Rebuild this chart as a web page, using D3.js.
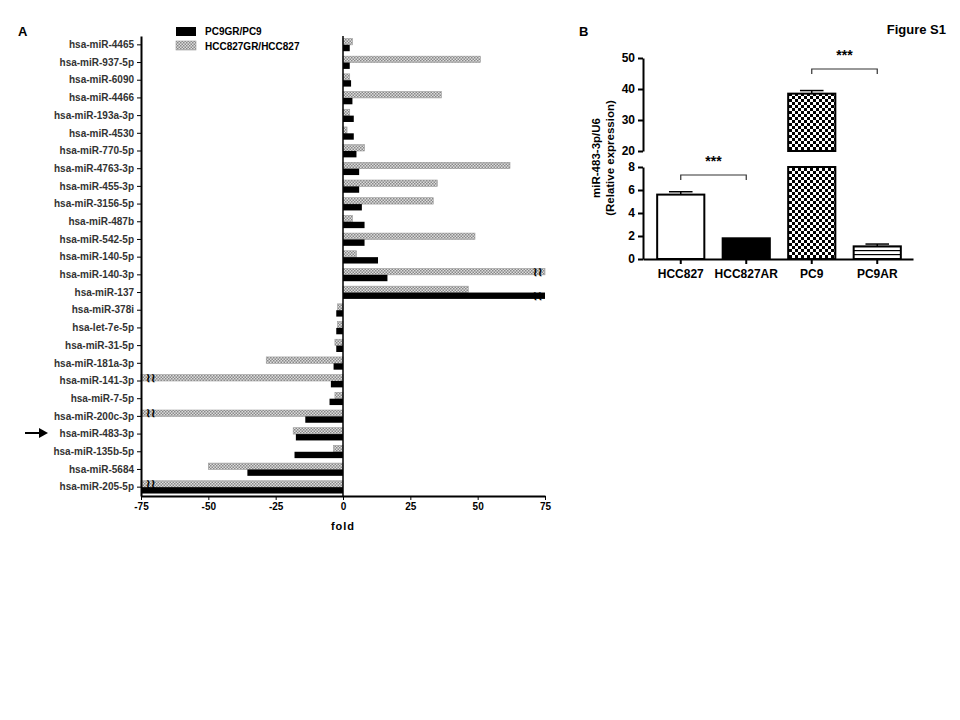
<!DOCTYPE html>
<html><head><meta charset="utf-8">
<script src="https://cdn.jsdelivr.net/npm/d3@7"></script>
<style>body{margin:0;background:#fff}text{font-family:"Liberation Sans",Arial,sans-serif}</style>
</head><body>
<script>
const mirs = ["hsa-miR-4465","hsa-miR-937-5p","hsa-miR-6090","hsa-miR-4466","hsa-miR-193a-3p","hsa-miR-4530","hsa-miR-770-5p","hsa-miR-4763-3p","hsa-miR-455-3p","hsa-miR-3156-5p","hsa-miR-487b","hsa-miR-542-5p","hsa-miR-140-5p","hsa-miR-140-3p","hsa-miR-137","hsa-miR-378i","hsa-let-7e-5p","hsa-miR-31-5p","hsa-miR-181a-3p","hsa-miR-141-3p","hsa-miR-7-5p","hsa-miR-200c-3p","hsa-miR-483-3p","hsa-miR-135b-5p","hsa-miR-5684","hsa-miR-205-5p"];
const pc9 = [2.5,2.5,3,3.5,4,4,5,6,6,7,8,8,13,16.5,75,-2.5,-2.5,-2.5,-3.5,-4.5,-5,-14,-17.5,-18,-35.5,-75];
const hcc = [3.5,51,2.5,36.5,2.5,1.5,8,62,35,33.5,3.5,49,5,75,46.5,-2,-2,-3,-28.5,-75,-3,-75,-18.5,-3.5,-50,-75];
const foldTicks = [-75,-50,-25,0,25,50,75];
const bCats = ["HCC827","HCC827AR","PC9","PC9AR"];
const bVals = [5.6,1.8,38.5,1.1];
const bErr = [0.25,0,1.0,0.2];
const bLowTicks = [0,2,4,6,8];
const bHighTicks = [20,30,40,50];

const W=960,H=720;
const svg=d3.select("body").append("svg").attr("width",W).attr("height",H);
const defs=svg.append("defs");
const pg=defs.append("pattern").attr("id","grayp").attr("patternUnits","userSpaceOnUse").attr("width",3).attr("height",3);
pg.append("rect").attr("width",3).attr("height",3).attr("fill","#ddd");
pg.append("rect").attr("width",1.5).attr("height",1.5).attr("fill","#888");
pg.append("rect").attr("x",1.5).attr("y",1.5).attr("width",1.5).attr("height",1.5).attr("fill","#888");
const pk=defs.append("pattern").attr("id","check").attr("patternUnits","userSpaceOnUse").attr("width",6).attr("height",6);
pk.append("rect").attr("width",6).attr("height",6).attr("fill","#fff");
pk.append("rect").attr("width",3).attr("height",3).attr("fill","#000");
pk.append("rect").attr("x",3).attr("y",3).attr("width",3).attr("height",3).attr("fill","#000");
const ps=defs.append("pattern").attr("id","stripe").attr("patternUnits","userSpaceOnUse").attr("width",4).attr("height",4);
ps.append("rect").attr("width",4).attr("height",4).attr("fill","#fff");
ps.append("rect").attr("y",2).attr("width",4).attr("height",1.2).attr("fill","#000");

svg.append("text").attr("x",18).attr("y",36).attr("font-size",13).attr("font-weight","bold").text("A");
svg.append("text").attr("x",579).attr("y",36).attr("font-size",13).attr("font-weight","bold").text("B");
svg.append("text").attr("x",946).attr("y",34).attr("text-anchor","end").attr("font-size",13).attr("font-weight","bold").text("Figure  S1");

// Panel A
const x=d3.scaleLinear().domain([-75,75]).range([141,545]);
const y=d3.scaleBand().domain(mirs).range([36,496]);
const bh=y.bandwidth()*0.36;
const gA=svg.append("g");
mirs.forEach((m,i)=>{
  const c=y(m)+y.bandwidth()/2;
  const vh=hcc[i], vp=pc9[i];
  gA.append("rect").attr("x",x(Math.min(0,vh))).attr("y",c-bh).attr("width",Math.abs(x(vh)-x(0))).attr("height",bh)
    .attr("fill","url(#grayp)").attr("stroke","#999").attr("stroke-width",0.6);
  gA.append("rect").attr("x",x(Math.min(0,vp))).attr("y",c).attr("width",Math.abs(x(vp)-x(0))).attr("height",bh).attr("fill","#000");
  [[vh,c-bh/2,hcc],[vp,c+bh/2,pc9]].forEach(([v,yy,s])=>{
    if(Math.abs(v)>=75 && !(s===pc9 && Math.abs(hcc[i])>=75 && Math.sign(hcc[i])===Math.sign(v))){
      const bx=v>0?x(v)-7:x(v)+10;
      gA.append("text").attr("x",bx).attr("y",yy+4).attr("text-anchor","middle").attr("font-size",12).attr("font-weight","bold").text("≀≀");
    }
  });
});
gA.append("g").attr("transform","translate(141,0)").call(d3.axisLeft(y).tickSize(4).tickSizeOuter(0))
  .call(g=>{g.selectAll("text").attr("font-size",10).attr("fill","#333").attr("font-weight","bold");g.select(".domain").attr("stroke-width",2);});
gA.append("line").attr("x1",x(0)).attr("x2",x(0)).attr("y1",36).attr("y2",496).attr("stroke","#000").attr("stroke-width",1.5);
gA.append("g").attr("transform","translate(0,496)").call(d3.axisBottom(x).tickValues(foldTicks).tickFormat(d=>String(d)).tickSize(4).tickSizeOuter(0))
  .call(g=>{g.selectAll("text").attr("font-size",10).attr("font-weight","bold");g.select(".domain").attr("stroke-width",2);});
svg.append("text").attr("x",343).attr("y",530).attr("text-anchor","middle").attr("font-size",11).attr("font-weight","bold").attr("letter-spacing",1).text("fold");
svg.append("rect").attr("x",176).attr("y",27).attr("width",20).attr("height",9).attr("fill","#000");
svg.append("rect").attr("x",176).attr("y",41).attr("width",20).attr("height",9).attr("fill","url(#grayp)").attr("stroke","#999").attr("stroke-width",0.6);
svg.append("text").attr("x",205).attr("y",35).attr("font-size",10).attr("font-weight","bold").text("PC9GR/PC9");
svg.append("text").attr("x",205).attr("y",50).attr("font-size",10).attr("font-weight","bold").text("HCC827GR/HCC827");
svg.append("line").attr("x1",25).attr("x2",42).attr("y1",433).attr("y2",433).attr("stroke","#000").attr("stroke-width",2);
svg.append("path").attr("d","M48,433 L39,428 L39,438 Z").attr("fill","#000");

// Panel B
const xb=d3.scaleBand().domain(bCats).range([648,910]).paddingInner(0.28).paddingOuter(0.14);
const yl=d3.scaleLinear().domain([0,8]).range([259,167]);
const yh=d3.scaleLinear().domain([20,50]).range([151,58]);
const gB=svg.append("g");
const fills=["#fff","#000","url(#check)","url(#stripe)"];
bCats.forEach((c,i)=>{
  const v=bVals[i], x0=xb(c), w=xb.bandwidth();
  if(bErr[i]>0){
    const e=v+bErr[i], ys=v>8?yh:yl;
    gB.append("line").attr("x1",x0+w/2).attr("x2",x0+w/2).attr("y1",ys(e)).attr("y2",ys(v)).attr("stroke","#000").attr("stroke-width",1.5);
    gB.append("line").attr("x1",x0+w*0.25).attr("x2",x0+w*0.75).attr("y1",ys(e)).attr("y2",ys(e)).attr("stroke","#000").attr("stroke-width",1.5);
  }
  const lowTop=yl(Math.min(v,8));
  gB.append("rect").attr("x",x0).attr("y",lowTop).attr("width",w).attr("height",yl(0)-lowTop).attr("fill",fills[i]).attr("stroke","#000").attr("stroke-width",2);
  if(v>20) gB.append("rect").attr("x",x0).attr("y",yh(v)).attr("width",w).attr("height",yh(20)-yh(v)).attr("fill",fills[i]).attr("stroke","#000").attr("stroke-width",2);
});
const axStyle=g=>{g.selectAll("text").attr("font-size",12).attr("font-weight","bold");g.select(".domain").attr("stroke-width",2);g.selectAll(".tick line").attr("stroke-width",2);};
gB.append("g").attr("transform","translate(643,0)").call(d3.axisLeft(yl).tickValues(bLowTicks).tickSize(5).tickSizeOuter(0)).call(axStyle);
gB.append("g").attr("transform","translate(643,0)").call(d3.axisLeft(yh).tickValues(bHighTicks).tickSize(5).tickSizeOuter(0)).call(axStyle);
gB.append("g").attr("transform","translate(643,259)").call(d3.axisBottom(d3.scaleLinear().range([0,270])).ticks(0).tickSizeOuter(0)).call(axStyle);
gB.append("g").attr("transform","translate(0,259)").call(d3.axisBottom(xb).tickSize(5).tickSizeOuter(0))
  .call(g=>{g.select(".domain").remove();g.selectAll("text").attr("font-size",12).attr("font-weight","bold").attr("dy","0.9em");g.selectAll(".tick line").attr("stroke-width",2);});
const br=(a,b,yy,sy)=>{
  const xa=xb(a)+xb.bandwidth()/2, xc=xb(b)+xb.bandwidth()/2;
  gB.append("path").attr("d",`M${xa},${yy+5}V${yy}H${xc}V${yy+5}`).attr("fill","none").attr("stroke","#333").attr("stroke-width",1.2);
  gB.append("text").attr("x",(xa+xc)/2).attr("y",sy).attr("text-anchor","middle").attr("font-size",14).attr("font-weight","bold").text("***");
};
br("HCC827","HCC827AR",175,166);
br("PC9","PC9AR",69,60);
svg.append("text").attr("transform","translate(600,158) rotate(-90)").attr("text-anchor","middle").attr("font-size",11.5).attr("font-weight","bold").text("miR-483-3p/U6");
svg.append("text").attr("transform","translate(614,158) rotate(-90)").attr("text-anchor","middle").attr("font-size",11.5).attr("font-weight","bold").text("(Relative expression)");
</script>
</body></html>
